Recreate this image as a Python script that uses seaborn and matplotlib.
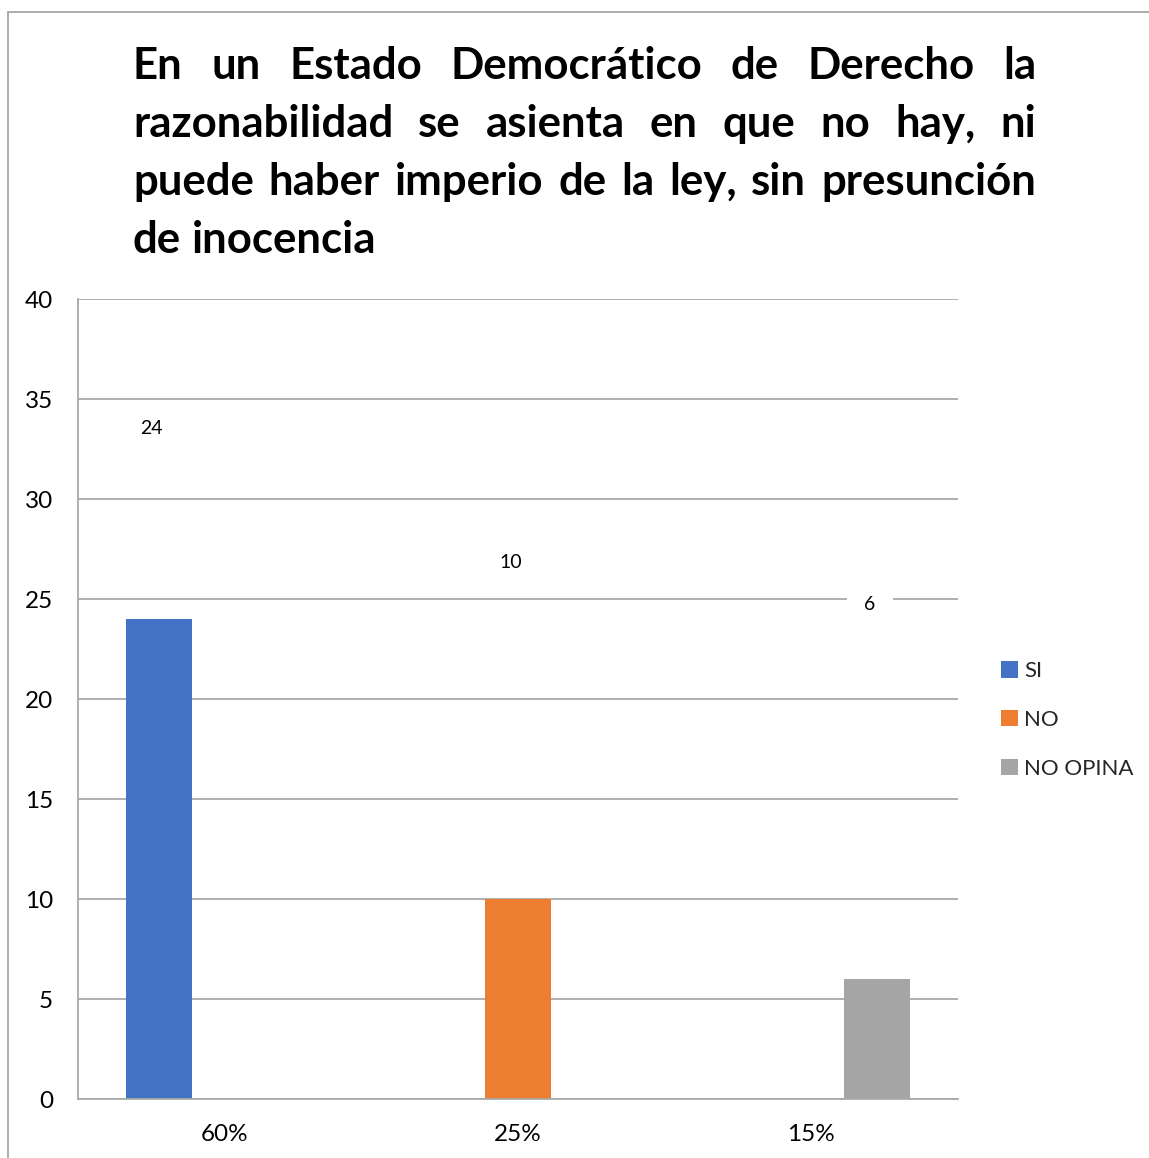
import numpy as np
import pandas as pd
import matplotlib
matplotlib.use("Agg")
import matplotlib.pyplot as plt
import seaborn as sns
from matplotlib.patches import Patch, Rectangle

# ---- data ----
categories = ["60%", "25%", "15%"]
series = ["SI", "NO", "NO OPINA"]
si_values = [24, None, None]
no_values = [None, 10, None]
no_opina_values = [None, None, 6]
colors = ["#4472C4", "#ED7D31", "#A5A5A5"]
title_lines = [
    "En un Estado Democrático de Derecho la",
    "razonabilidad se asienta en que no hay, ni",
    "puede haber imperio de la ley, sin presunción",
    "de inocencia",
]
y_ticks = [0, 5, 10, 15, 20, 25, 30, 35, 40]

rows = []
for s, vals in zip(series, [si_values, no_values, no_opina_values]):
    for c, v in zip(categories, vals):
        if v is not None:
            rows.append({"categoria": c, "serie": s, "valor": v})
df = pd.DataFrame(rows)

sns.set_theme(style="white")
plt.rcParams["font.family"] = ["Lato", "DejaVu Sans"]

W, H = 1149, 1158
fig = plt.figure(figsize=(W / 100, H / 100), dpi=100)
ax = fig.add_axes([78 / W, 59 / H, 880 / W, 800 / H])

sns.barplot(data=df, x="categoria", y="valor", hue="serie", order=categories,
            hue_order=series, palette=colors, width=0.675, dodge=True,
            errorbar=None, ax=ax, legend=False, saturation=1, linewidth=0)

ax.set_ylim(0, 40)
ax.set_xlim(-0.5, len(categories) - 0.5)
ax.set_yticks(y_ticks)
ax.yaxis.grid(True, color="#a9a9a9", linewidth=1.3)
ax.set_axisbelow(True)
for side in ["top", "right"]:
    ax.spines[side].set_visible(False)
for side in ["left", "bottom"]:
    ax.spines[side].set_color("#a9a9a9")
    ax.spines[side].set_linewidth(1.3)
ax.set_xlabel("")
ax.set_ylabel("")
ax.tick_params(axis="y", length=0, pad=18, labelsize=17.5, colors="black")
ax.tick_params(axis="x", length=0, pad=18, labelsize=17.5, colors="black")

# data labels (offsets are layout only)
label_offsets_px = {"SI": 191, "NO": 337, "NO OPINA": 375}
for cont, s in zip(ax.containers, series):
    for p in cont.patches:
        h = p.get_height()
        if np.isnan(h) or h == 0:
            continue
        cx = p.get_x() + p.get_width() / 2
        ax.annotate(f"{int(h)}", xy=(cx, h), xytext=(-5.5, label_offsets_px[s] * 0.72),
                    textcoords="offset points", ha="center", va="center",
                    fontsize=14, color="black",
                    bbox=dict(boxstyle="square,pad=0.9", fc="white", ec="none"))

# legend
handles = [Patch(facecolor=c, edgecolor="none") for c in colors]
fig.legend(handles, series, loc="center left",
           bbox_to_anchor=(1001 / W, (H - 720) / H), frameon=False,
           fontsize=16, handlelength=0.75, handleheight=0.75,
           handletextpad=0.3, labelspacing=1.3, borderpad=0, borderaxespad=0)

# border
fig.add_artist(Rectangle((8 / W, -0.1), 1.2, (H - 12) / H + 0.1,
                         transform=fig.transFigure, fill=False,
                         edgecolor="#a6a6a6", linewidth=1.3))

# justified title
renderer = fig.canvas.get_renderer()
left_px, right_px = 133, 1036
baselines = [79, 137, 195, 253]
fs = 31.5
for i, (line, base) in enumerate(zip(title_lines, baselines)):
    words = line.split(" ")
    texts = [fig.text(0, 1 - base / H, w, fontsize=fs, fontweight="bold",
                      ha="left", va="baseline", color="black") for w in words]
    widths = [t.get_window_extent(renderer).width for t in texts]
    if i < len(title_lines) - 1 and len(words) > 1:
        gap = (right_px - left_px - sum(widths)) / (len(words) - 1)
    else:
        sp = fig.text(0, 0, "a a", fontsize=fs, fontweight="bold")
        sp2 = fig.text(0, 0, "aa", fontsize=fs, fontweight="bold")
        gap = sp.get_window_extent(renderer).width - sp2.get_window_extent(renderer).width
        sp.remove(); sp2.remove()
    x = left_px
    for t, w in zip(texts, widths):
        t.set_x(x / W)
        x += w + gap

fig.savefig("out.png", dpi=100)
